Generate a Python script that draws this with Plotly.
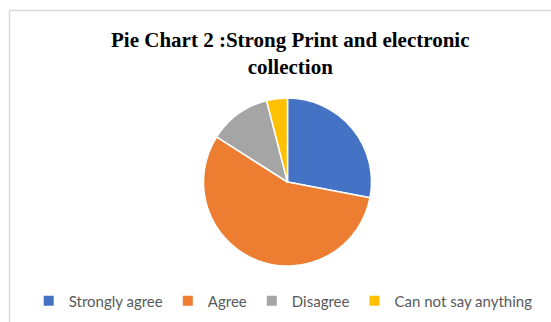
import plotly.graph_objects as go

# Survey responses: strong print and electronic collection
categories = ["Strongly agree", "Agree", "Disagree", "Can not say anything"]
shares = [28, 56, 12, 4]
colors = ["#4472C4", "#ED7D31", "#A5A5A5", "#FFC000"]

W, H = 551, 322
cx, cy, r = 287.5, 182.0, 84.0

fig = go.Figure(
    go.Pie(
        labels=categories,
        values=shares,
        sort=False,
        direction="clockwise",
        rotation=0,
        textinfo="none",
        hoverinfo="label+percent",
        marker=dict(colors=colors, line=dict(color="white", width=1.5)),
        domain=dict(
            x=[(cx - r) / W, (cx + r) / W],
            y=[1 - (cy + r) / H, 1 - (cy - r) / H],
        ),
    )
)

fig.update_layout(
    width=W,
    height=H,
    margin=dict(l=0, r=0, t=0, b=0),
    paper_bgcolor="white",
    plot_bgcolor="white",
    showlegend=True,
    legend=dict(
        orientation="h",
        x=0.514,
        xanchor="center",
        y=1 - 301 / H,
        yanchor="middle",
        font=dict(family="Lato", size=15, color="#595959"),
        itemsizing="constant",
        itemwidth=30,
    ),
    annotations=[
        dict(
            text="<b>Pie Chart 2 :Strong Print and electronic<br>collection</b>",
            xref="paper", yref="paper",
            x=0.528, xanchor="center",
            y=1 - 53 / H, yanchor="middle",
            showarrow=False,
            align="center",
            font=dict(family="Liberation Serif", size=21, color="black"),
        )
    ],
    shapes=[
        dict(type="line", xref="paper", yref="paper",
             x0=9.5 / W, x1=1, y0=1 - 10.5 / H, y1=1 - 10.5 / H,
             line=dict(color="#D9D9D9", width=1.5)),
        dict(type="line", xref="paper", yref="paper",
             x0=9.5 / W, x1=9.5 / W, y0=0, y1=1 - 10.5 / H,
             line=dict(color="#D9D9D9", width=1.5)),
    ],
)

fig.write_html("out.html")
